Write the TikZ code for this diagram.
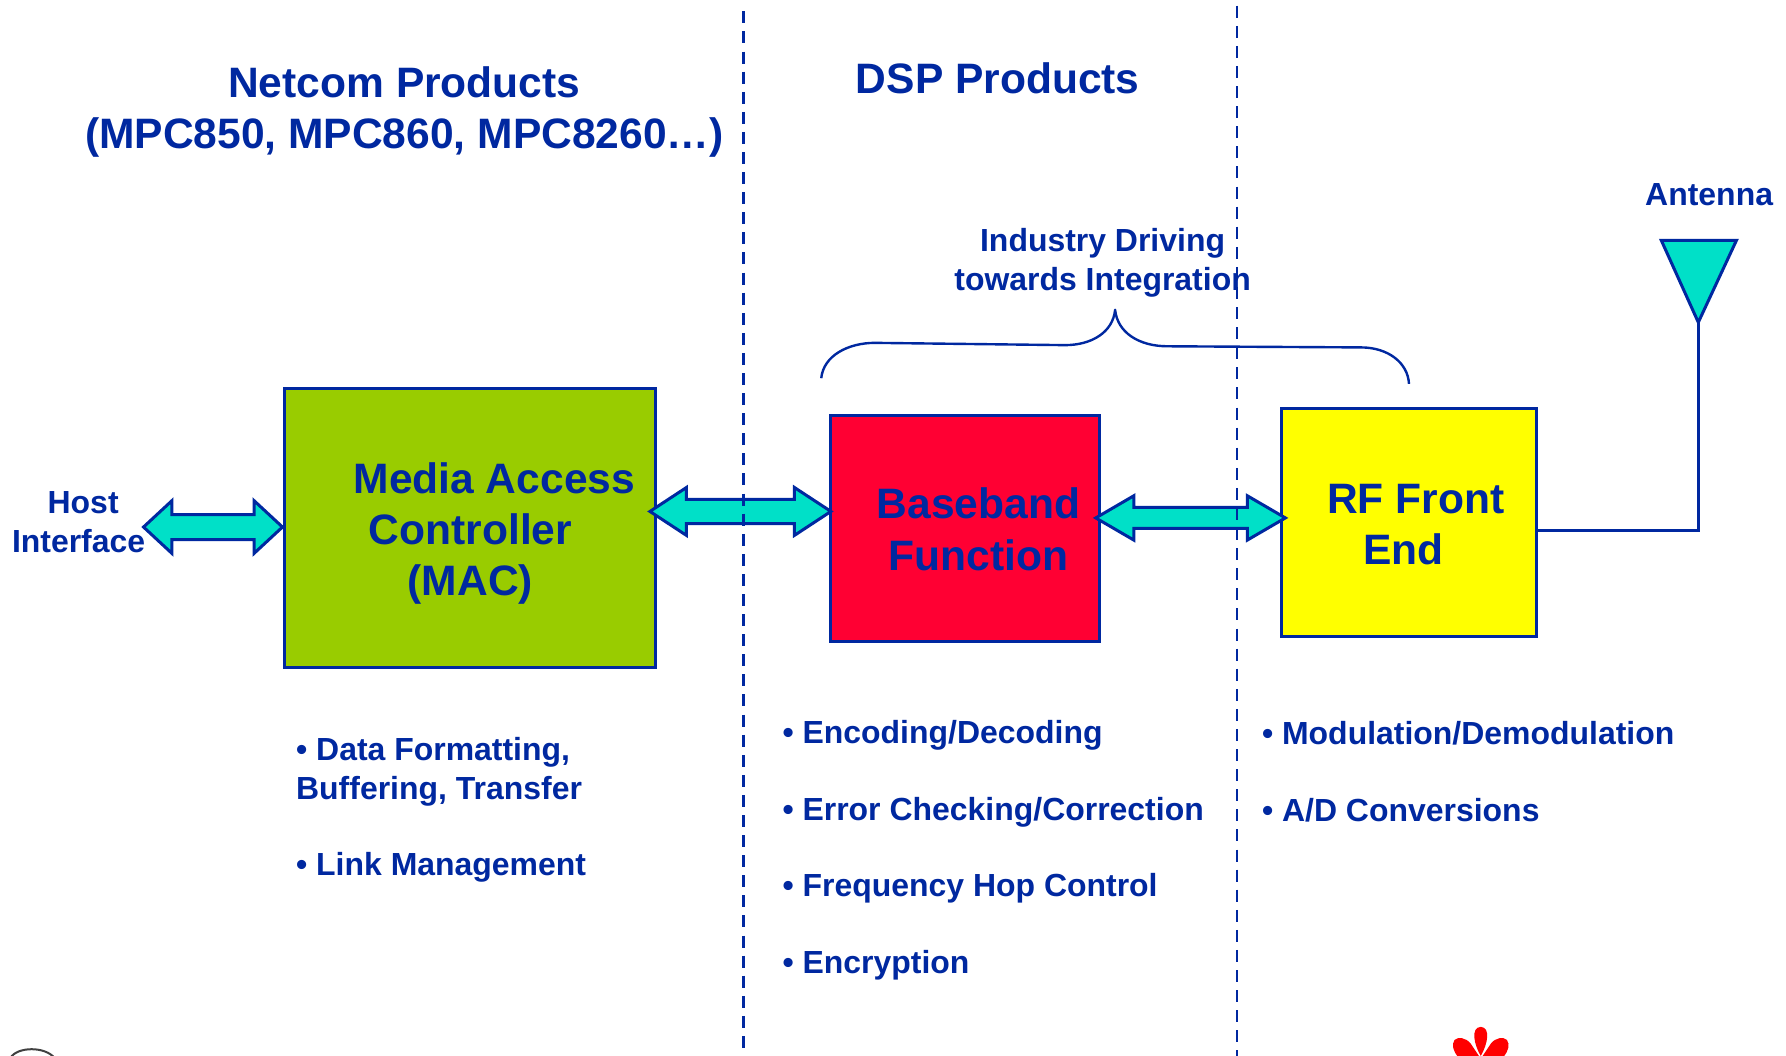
\documentclass[tikz,border=0pt]{standalone}
\usepackage{fontspec}
\setmainfont{Liberation Sans}
\usetikzlibrary{calc}
\definecolor{ink}{RGB}{0,40,160}
\definecolor{macgreen}{RGB}{153,204,0}
\definecolor{bbred}{RGB}{255,0,51}
\definecolor{rfyellow}{RGB}{255,255,0}
\definecolor{teal2}{RGB}{0,224,200}
\newcommand{\kk}{1.139pt}
\tikzset{
  big/.style={text=ink,font=\bfseries\fontsize{42.55}{51.3}\selectfont,inner sep=0pt,outer sep=0pt,anchor=base},
  small/.style={text=ink,font=\bfseries\fontsize{31.95}{38.5}\selectfont,inner sep=0pt,outer sep=0pt,anchor=base},
  item/.style={small,anchor=base west},
  blockbox/.style={draw=ink,line width=3pt,inner sep=0pt,outer sep=0pt},
  divider/.style={draw=ink,line width=2.6pt,dash pattern=on 12pt off 8.09pt},
  link/.style={draw=ink,line width=3pt},
  blockarrow/.style={draw=ink,fill=teal2,line width=3pt,line join=miter},
}
% #1,#2 named ends; #3 head length; #4 half head; #5 half shaft
\newcommand{\blockarrowpath}[5]{%
  \draw[blockarrow] (#1) -- ($(#1)+(#3,-#4)$) -- ($(#1)+(#3,-#5)$) -- ($(#2)+(-#3,-#5)$)
    -- ($(#2)+(-#3,-#4)$) -- (#2) -- ($(#2)+(-#3,#4)$) -- ($(#2)+(-#3,#5)$)
    -- ($(#1)+(#3,#5)$) -- ($(#1)+(#3,#4)$) -- cycle;}
\begin{document}
\begin{tikzpicture}[x=1.139pt,y=-1.139pt]
\useasboundingbox (0,0) rectangle (1568,927);
\clip (0,0) rectangle (1568,927);
% dividers
\coordinate (d1a) at (653,10); \coordinate (d1b) at (653,921);
\coordinate (d2a) at (1086,5); \coordinate (d2b) at (1086,927);
% headings
\node[big] (netcom) at (355,85.5) {Netcom Products};
\node[big] (mpc) at (355,130.5) {(MPC850, MPC860, MPC8260…)};
\node[big] (dsp) at (876,82) {DSP Products};
% blocks
\node[blockbox,fill=macgreen,minimum width=326*\kk,minimum height=245*\kk] (mac) at (412.5,463.5) {};
\node[blockbox,fill=bbred,minimum width=236*\kk,minimum height=199*\kk] (bb) at (847.5,464) {};
\node[blockbox,fill=rfyellow,minimum width=224*\kk,minimum height=200*\kk] (rf) at (1237,459) {};
% block labels
\node[big] (mac1) at (434,433) {Media Access};
\node[big] (mac2) at (413,478) {Controller};
\node[big] (mac3) at (413,523) {(MAC)};
\node[big] (bb1) at (859,455) {Baseband};
\node[big] (bb2) at (859,500.5) {Function};
\node[big] (rf1) at (1243,450.5) {RF Front};
\node[big] (rf2) at (1232,495.5) {End};
% block arrows
\coordinate (a1l) at (126,462.7); \coordinate (a1r) at (248,462.7);
\coordinate (a2l) at (570.6,449); \coordinate (a2r) at (729.5,449);
\coordinate (a3l) at (962,454.7); \coordinate (a3r) at (1128.5,454.7);
\blockarrowpath{a1l}{a1r}{25}{23.2}{11}
\blockarrowpath{a2l}{a2r}{32}{21}{10.6}
\blockarrowpath{a3l}{a3r}{33.5}{19.5}{9.2}
\draw[divider] (d1a) -- (d1b);
\draw[divider] (d2a) -- (d2b);
% host
\node[small] (host) at (73,451) {Host};
\node[small] (iface) at (69,485) {Interface};
% antenna
\node[small] (ant) at (1500.5,180) {Antenna};
\coordinate (tl) at (1458.5,211); \coordinate (tr) at (1524.5,211); \coordinate (tip) at (1491,283);
\draw[link,line join=miter,fill=teal2] (tl) -- (tr) -- (tip) -- cycle;
\draw[link] (rf.east |- 0,465.5) -| (tip);
% brace
\node[small] (ind1) at (968,221) {Industry Driving};
\node[small] (ind2) at (968,255) {towards Integration};
\coordinate (bl) at (721,332); \coordinate (bm) at (979,272); \coordinate (br) at (1237,337);
\draw[draw=ink,line width=2.4pt,line join=round] (bl) .. controls (723,312) and (745,301) .. (768,301)
  -- (935,303) .. controls (958,303) and (977,292) .. (bm)
  .. controls (981,292) and (1000,304) .. (1025,304)
  -- (1195,305) .. controls (1218,305) and (1236,318) .. (br);
% lists
\node[item] (l1) at (260,668) {• Data Formatting,};
\node[item] (l2) at (260,702) {Buffering, Transfer};
\node[item] (l3) at (260,769) {• Link Management};
\node[item] (m1) at (687,653) {• Encoding/Decoding};
\node[item] (m2) at (687,720) {• Error Checking/Correction};
\node[item] (m3) at (687,787) {• Frequency Hop Control};
\node[item] (m4) at (687,855) {• Encryption};
\node[item] (r1) at (1108,654) {• Modulation/Demodulation};
\node[item] (r2) at (1108,721) {• A/D Conversions};
% logo fragments at the bottom edge
\draw[black!75,line width=2pt] (9,929) .. controls (15,918.5) and (40,918.5) .. (48,929);
\fill[red] (1300,927) .. controls (1294,917) and (1291,902) .. (1300,901.5) .. controls (1309,902) and (1306,917) .. (1300,927) -- cycle;
\fill[red] (1299,928) -- (1291,916) .. controls (1287,911) and (1280,910) .. (1277,913) .. controls (1274,917) and (1276,923) .. (1280,928) -- cycle;
\fill[red] (1301,928) -- (1309,916) .. controls (1313,911) and (1320,910) .. (1323,913) .. controls (1326,917) and (1324,923) .. (1320,928) -- cycle;
\end{tikzpicture}
\end{document}
